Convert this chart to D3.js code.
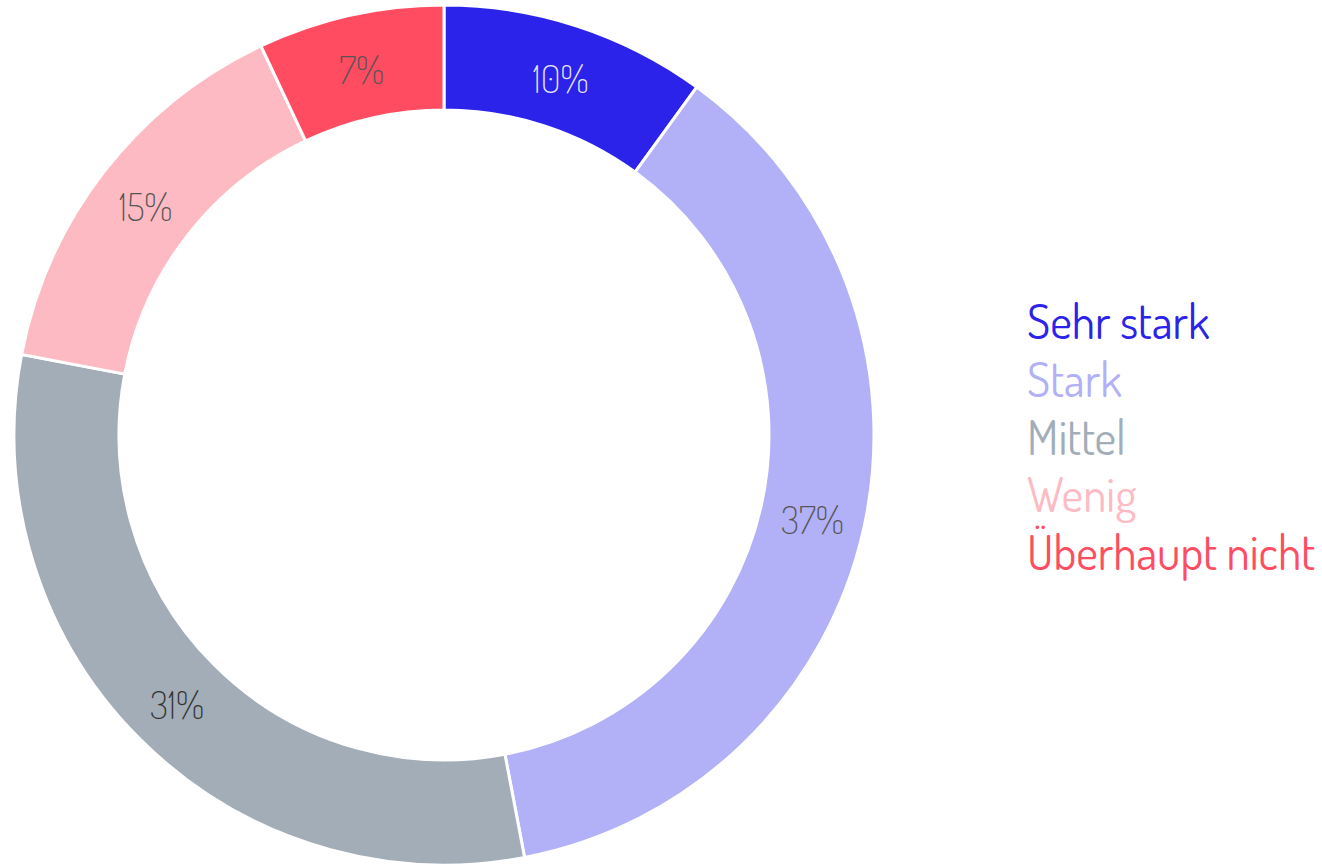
<!DOCTYPE html>
<html lang="de">
<head>
<meta charset="UTF-8">
<title>Donut</title>
<style>
  body { margin: 0; background: #fff; }
  svg text { font-family: Dosis, Inter, "DejaVu Sans", sans-serif; }
</style>
</head>
<body>
<svg id="chart" width="1322" height="864"></svg>
<script src="https://cdn.jsdelivr.net/npm/d3@7"></script>
<script>
// Kategorien und Werte (Prozent)
var categories = ['Sehr stark', 'Stark', 'Mittel', 'Wenig', 'Überhaupt nicht']
var values = [10, 37, 31, 15, 7]
var colors = ['#2b23ea', '#b2b0f7', '#a2adb8', '#febac3', '#ff4c61']
var labelColors = ['#e6e6f8', '#555', '#333', '#555', '#555']

var svg = d3.select('#chart')
var cx = 444, cy = 435
var outerR = 430, innerR = 325

var data = categories.map(function (c, i) { return { name: c, value: values[i], i: i } })

var pie = d3.pie().sort(null).value(function (d) { return d.value })
var arc = d3.arc().innerRadius(innerR).outerRadius(outerR)
var color = d3.scaleOrdinal().domain(categories).range(colors)

var g = svg.append('g').attr('transform', 'translate(' + cx + ',' + cy + ')')

g.selectAll('path')
  .data(pie(data))
  .enter()
  .append('path')
  .attr('d', arc)
  .style('fill', function (d) { return color(d.data.name) })
  .style('stroke', '#fff')
  .style('stroke-width', '3px')

g.selectAll('text')
  .data(pie(data))
  .enter()
  .append('text')
  .attr('transform', function (d) { return 'translate(' + arc.centroid(d) + ')' })
  .attr('text-anchor', 'middle')
  .attr('dy', '0.45em')
  .style('font-size', '38px')
  .style('font-weight', 200)
  .style('fill', function (d) { return labelColors[d.data.i] })
  .text(function (d) { return d.data.value + '%' })

// Legende
var legendY = d3.scaleBand().domain(categories).range([298, 587])
var legend = svg.append('g')
legend.selectAll('text')
  .data(categories)
  .enter()
  .append('text')
  .attr('x', 1027)
  .attr('y', function (d) { return legendY(d) + 41 })
  .style('font-size', '47px')
  .style('font-weight', 400)
  .style('fill', function (d) { return color(d) })
  .text(function (d) { return d })
</script>
</body>
</html>
